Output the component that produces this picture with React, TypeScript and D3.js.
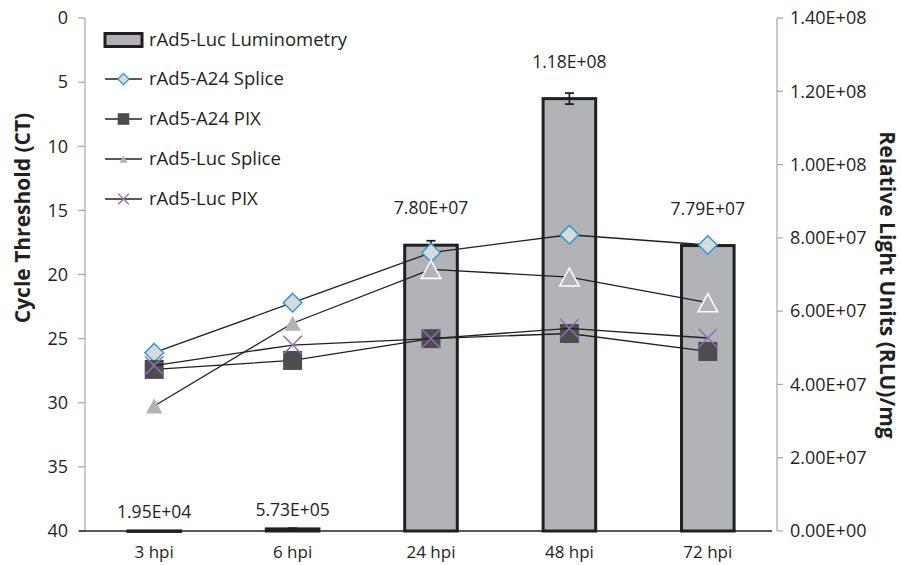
import React from 'react';
import * as d3 from 'd3';

const categories = ['3 hpi', '6 hpi', '24 hpi', '48 hpi', '72 hpi'];
const luminometry = [1.95e4, 5.73e5, 7.8e7, 1.18e8, 7.79e7];
const luminometryErr = [0, 2e5, 1.2e6, 1.5e6, 4e5];
const luminometryLabels = ['1.95E+04', '5.73E+05', '7.80E+07', '1.18E+08', '7.79E+07'];
const a24Splice = [26.1, 22.2, 18.3, 16.9, 17.7];
const a24Pix = [27.4, 26.7, 25.0, 24.6, 26.0];
const lucSplice = [30.25, 23.8, 19.6, 20.2, 22.2];
const lucPix = [27.1, 25.5, 25.0, 24.2, 24.95];
const leftTicks = [0, 5, 10, 15, 20, 25, 30, 35, 40];
const rightTicks = [0, 2e7, 4e7, 6e7, 8e7, 1e8, 1.2e8, 1.4e8];
const rightTickLabels = ['0.00E+00', '2.00E+07', '4.00E+07', '6.00E+07', '8.00E+07', '1.00E+08', '1.20E+08', '1.40E+08'];
const legendLabels = ['rAd5-Luc Luminometry', 'rAd5-A24 Splice', 'rAd5-A24 PIX', 'rAd5-Luc Splice', 'rAd5-Luc PIX'];

const W = 901, H = 565;
const plotL = 85, plotR = 777, plotT = 18, plotB = 531;
const FONT = '"Open Sans", "DejaVu Sans", sans-serif';
const INK = '#231f20';
const BAR_FILL = '#b1b3b6';
const BLUE = '#2b9bd0';
const DIAMOND_FILL = '#d9dadb';
const SQUARE_FILL = '#4d4d4f';
const PURPLE = '#8a6fb5';

const x = d3.scaleBand<string>().domain(categories).range([plotL, plotR]).padding(0);
const yL = d3.scaleLinear().domain([0, 40]).range([plotT, plotB]);
const yR = d3.scaleLinear().domain([0, 1.4e8]).range([plotB, plotT]);
const cx = (c: string) => (x(c) as number) + x.bandwidth() / 2;

const lineGen = d3.line<number>().x((_, i) => cx(categories[i])).y((d) => yL(d));

function diamond(px: number, py: number, r: number) {
  return `M${px},${py - r}L${px + r},${py}L${px},${py + r}L${px - r},${py}Z`;
}
function square(px: number, py: number, r: number) {
  return `M${px - r},${py - r}H${px + r}V${py + r}H${px - r}Z`;
}
function triangle(px: number, py: number, w: number) {
  const h = w * 0.92;
  return `M${px},${py - h / 2}L${px + w / 2},${py + h / 2}L${px - w / 2},${py + h / 2}Z`;
}
function cross(px: number, py: number, r: number) {
  return `M${px - r},${py - r}L${px + r},${py + r}M${px - r},${py + r}L${px + r},${py - r}`;
}

export default function App() {
  const barW = x.bandwidth() * 0.38;
  const legendY = [40, 79, 119, 159, 199];
  const lgX0 = 105, lgX1 = 142, lgXm = 123.5, lgText = 149;

  return (
    <svg width={W} height={H} style={{ position: 'absolute', left: 0, top: 0, background: '#fff' }} fontFamily={FONT}>
      {/* left axis */}
      <line x1={plotL} x2={plotL} y1={plotT} y2={plotB} stroke="#a6a6a6" strokeWidth={1.2} />
      {leftTicks.map((t) => (
        <g key={'lt' + t}>
          <line x1={plotL - 7} x2={plotL} y1={yL(t)} y2={yL(t)} stroke="#a6a6a6" strokeWidth={1.2} />
          <text x={68} y={yL(t)} dy="0.35em" textAnchor="end" fontSize={18} fill={INK}>{t}</text>
        </g>
      ))}
      {/* right axis */}
      <line x1={plotR} x2={plotR} y1={plotT} y2={plotB} stroke="#a6a6a6" strokeWidth={1.2} />
      {rightTicks.map((t, i) => (
        <g key={'rt' + t}>
          <line x1={plotR} x2={plotR + 6} y1={yR(t)} y2={yR(t)} stroke="#a6a6a6" strokeWidth={1.2} />
          <text x={790} y={yR(t)} dy="0.35em" textAnchor="start" fontSize={18} fill={INK}>{rightTickLabels[i]}</text>
        </g>
      ))}
      {/* axis titles */}
      <text transform={`translate(30,218) rotate(-90)`} textAnchor="middle" fontSize={21} fontWeight="bold" fill={INK}>Cycle Threshold (CT)</text>
      <text transform={`translate(880,285) rotate(90)`} textAnchor="middle" fontSize={21} fontWeight="bold" fill={INK}>Relative Light Units (RLU)/mg</text>

      {/* bars */}
      {luminometry.map((v, i) => {
        const c = cx(categories[i]);
        const top = yR(v);
        const h = Math.max(plotB - top, 0.5);
        const err = luminometryErr[i];
        const e1 = yR(v + err), e2 = yR(v - err);
        const labelY = v > 1e7 ? top - 31 : top - 13;
        return (
          <g key={'bar' + i}>
            <rect x={c - barW / 2} y={top} width={barW} height={h} fill={BAR_FILL} stroke={INK} strokeWidth={3} />
            {err > 0 && (
              <g stroke={INK} strokeWidth={1.8}>
                <line x1={c} x2={c} y1={e1} y2={e2} />
                <line x1={c - 4.5} x2={c + 4.5} y1={e1} y2={e1} />
                <line x1={c - 4.5} x2={c + 4.5} y1={e2} y2={e2} />
              </g>
            )}
            <text x={c} y={labelY} textAnchor="middle" fontSize={17.5} fill={INK}>{luminometryLabels[i]}</text>
          </g>
        );
      })}

      {/* x axis */}
      <line x1={plotL - 6} x2={plotR - 5} y1={plotB} y2={plotB} stroke={INK} strokeWidth={1.5} />
      {categories.map((c) => (
        <text key={'xc' + c} x={cx(c)} y={558} textAnchor="middle" fontSize={17} fill={INK}>{c}</text>
      ))}

      {/* series: A24 Splice */}
      <path d={lineGen(a24Splice) as string} fill="none" stroke={INK} strokeWidth={1.3} />
      {a24Splice.map((v, i) => (
        <path key={'d' + i} d={diamond(cx(categories[i]), yL(v), 9.3)} fill={DIAMOND_FILL} stroke={BLUE} strokeWidth={1.5} />
      ))}
      {/* A24 PIX */}
      <path d={lineGen(a24Pix) as string} fill="none" stroke={INK} strokeWidth={1.3} />
      {a24Pix.map((v, i) => (
        <path key={'s' + i} d={square(cx(categories[i]), yL(v), 9.5)} fill={SQUARE_FILL} stroke="none" />
      ))}
      {/* Luc Splice */}
      <path d={lineGen(lucSplice) as string} fill="none" stroke={INK} strokeWidth={1.3} />
      {lucSplice.map((v, i) =>
        i < 2 ? (
          <path key={'t' + i} d={triangle(cx(categories[i]), yL(v), 16.5)} fill={BAR_FILL} stroke="none" />
        ) : (
          <path key={'t' + i} d={triangle(cx(categories[i]), yL(v), 19.5)} fill={BAR_FILL} stroke="#ffffff" strokeWidth={1.6} />
        )
      )}
      {/* Luc PIX */}
      <path d={lineGen(lucPix) as string} fill="none" stroke={INK} strokeWidth={1.3} />
      {lucPix.map((v, i) => (
        <path key={'x' + i} d={cross(cx(categories[i]), yL(v), 9.3)} fill="none" stroke={PURPLE} strokeWidth={1.5} />
      ))}

      {/* legend */}
      <g>
        <rect x={lgX0} y={legendY[0] - 6.5} width={lgX1 - lgX0} height={13} fill={BAR_FILL} stroke={INK} strokeWidth={3} />
        {[1, 2, 3, 4].map((k) => (
          <line key={'ll' + k} x1={lgX0} x2={lgX1} y1={legendY[k]} y2={legendY[k]} stroke={INK} strokeWidth={1.3} />
        ))}
        <path d={diamond(lgXm, legendY[1], 5.6)} fill={DIAMOND_FILL} stroke={BLUE} strokeWidth={1.3} />
        <path d={square(lgXm, legendY[2], 5.8)} fill={SQUARE_FILL} />
        <path d={triangle(lgXm, legendY[3], 8)} fill={BAR_FILL} />
        <path d={cross(lgXm, legendY[4], 5.3)} fill="none" stroke={PURPLE} strokeWidth={1.3} />
        {legendLabels.map((t, k) => (
          <text key={'lt' + k} x={lgText} y={legendY[k]} dy="0.35em" fontSize={18.5} fill={INK}>{t}</text>
        ))}
      </g>
    </svg>
  );
}
